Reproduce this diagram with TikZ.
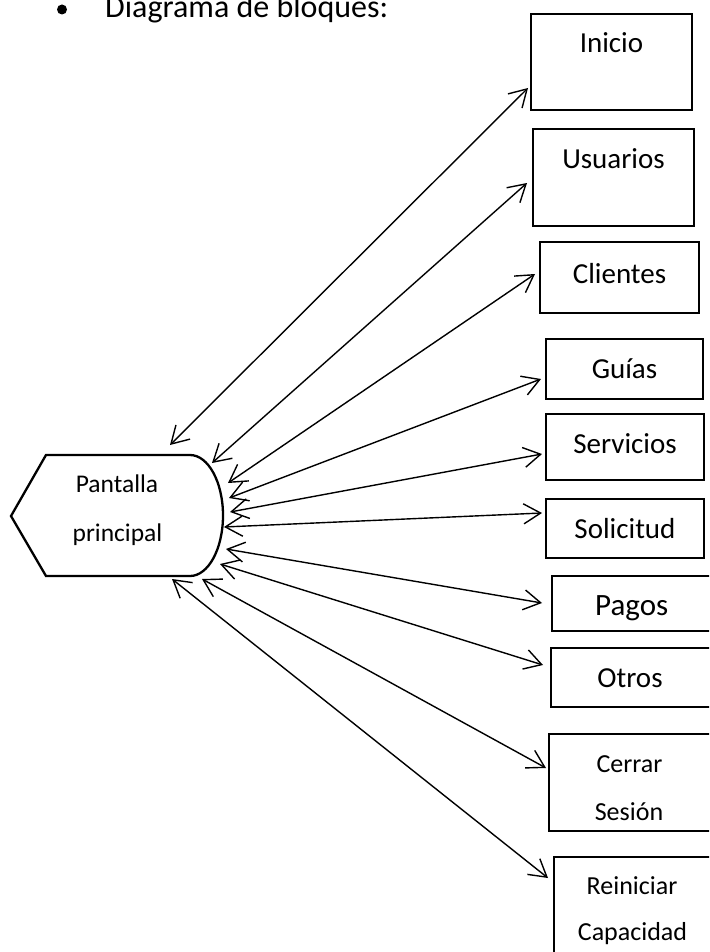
\documentclass[tikz,border=0pt]{standalone}
\usepackage{fontspec}
\setmainfont{Carlito}
\usetikzlibrary{arrows.meta,fit}
\begin{document}
\begin{tikzpicture}[x=1pt,y=-1pt,
  boxst/.style={draw, line width=2pt, inner sep=0pt},
  lbl/.style={anchor=base, inner sep=0pt, font=\fontsize{29}{29}\selectfont},
  lblsm/.style={anchor=base, inner sep=0pt, font=\fontsize{26}{26}\selectfont},
  arr/.style={line width=1.4pt, {Straight Barb[length=17pt,width=20pt]}-{Straight Barb[length=17pt,width=20pt]}}]
\clip (0,0) rectangle (709,952);
\fill[white] (0,0) rectangle (709,952);

% header
\node[circle, fill, inner sep=0pt, minimum size=10pt] (bul) at (62,9.5) {};
\node[anchor=base west, inner sep=0pt, font=\fontsize{32}{32}\selectfont] (head) at (105,18) {Diagrama de bloques:};

% main display shape
\draw[line width=2.3pt, line join=miter] (11,516) -- (46,455) -- (190,455)
  arc[start angle=90, end angle=-90, x radius=33pt, y radius=60.5pt] -- (46,576) -- cycle;
\node[anchor=base, inner sep=0pt, font=\fontsize{25.5}{25.5}\selectfont] (pant1) at (117,492) {Pantalla};
\node[anchor=base, inner sep=0pt, font=\fontsize{25.5}{25.5}\selectfont] (pant2) at (117.5,541) {principal};

% boxes
\node[boxst, fit={(531,14) (692,110)}] (inicio) {};
\node[boxst, fit={(533,129) (694,226)}] (usuarios) {};
\node[boxst, fit={(540,242) (699,313)}] (clientes) {};
\node[boxst, fit={(546,339) (703,399)}] (guias) {};
\node[boxst, fit={(546,414) (704,480)}] (servicios) {};
\node[boxst, fit={(546,499) (704,558)}] (solicitud) {};
\node[boxst, fit={(552,576) (713,631)}] (pagos) {};
\node[boxst, fit={(551,648) (713,707)}] (otros) {};
\node[boxst, fit={(549,734) (713,831)}] (cerrar) {};
\node[boxst, fit={(554,857) (713,965)}] (reiniciar) {};

% labels
\node[lbl] (tInicio) at (611.5,53) {Inicio};
\node[lbl] (tUsuarios) at (613.5,168) {Usuarios};
\node[lbl] (tClientes) at (619.5,283) {Clientes};
\node[lbl] (tGuias) at (624.5,378) {Guías};
\node[lbl] (tServicios) at (625,453) {Servicios};
\node[lbl] (tSolicitud) at (625,538) {Solicitud};
\node[anchor=base, inner sep=0pt, font=\fontsize{31}{31}\selectfont] (tPagos) at (631.7,615) {Pagos};
\node[lbl] (tOtros) at (630,687) {Otros};
\node[lblsm] (tCerrar) at (629.5,772) {Cerrar};
\node[lblsm] (tSesion) at (629,820) {Sesión};
\node[lblsm] (tReiniciar) at (632,894) {Reiniciar};
\node[lblsm] (tCapacidad) at (632.5,940) {Capacidad};

% connector end points
\coordinate (pI) at (170,445);  \coordinate (bI) at (528,88);
\coordinate (pU) at (212,463);  \coordinate (bU) at (527,183);
\coordinate (pC) at (228,483);  \coordinate (bC) at (535,274);
\coordinate (pG) at (229,498);  \coordinate (bG) at (541,379);
\coordinate (pS) at (230,512);  \coordinate (bS) at (542,454);
\coordinate (pSo) at (224,527); \coordinate (bSo) at (542,513);
\coordinate (pP) at (226,549);  \coordinate (bP) at (542,603);
\coordinate (pO) at (220,564);  \coordinate (bO) at (543,665);
\coordinate (pCe) at (202,579); \coordinate (bCe) at (546,768);
\coordinate (pR) at (172,579);  \coordinate (bR) at (548,878);

\draw[arr] (pI) -- (bI);
\draw[arr] (pU) -- (bU);
\draw[arr] (pC) -- (bC);
\draw[arr] (pG) -- (bG);
\draw[arr] (pS) -- (bS);
\draw[arr] (pSo) -- (bSo);
\draw[arr] (pP) -- (bP);
\draw[arr] (pO) -- (bO);
\draw[arr] (pCe) -- (bCe);
\draw[arr] (pR) -- (bR);
\end{tikzpicture}
\end{document}
